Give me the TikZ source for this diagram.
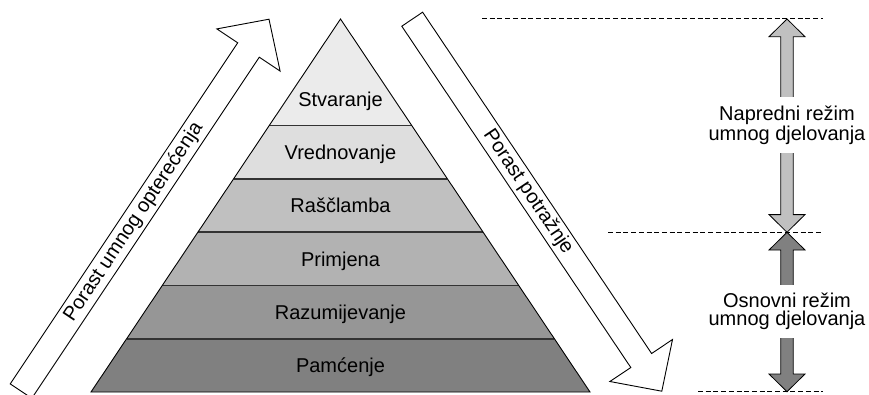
\documentclass[tikz,border=0pt]{standalone}
\usepackage{fontspec}
\setmainfont{Liberation Sans}
\usetikzlibrary{calc}
\definecolor{bandA}{HTML}{EBEBEB}
\definecolor{bandB}{HTML}{DEDEDE}
\definecolor{bandC}{HTML}{C0C0C0}
\definecolor{bandD}{HTML}{B2B2B2}
\definecolor{bandE}{HTML}{969696}
\definecolor{bandF}{HTML}{808080}
\definecolor{arrLight}{HTML}{C0C0C0}
\definecolor{arrDark}{HTML}{808080}
\newcommand\mydblarrow[3]{%
  \draw[dblarr, fill=#3] (#1) -- ++(18,17.7) -- ++(-11.8,0) -- ($(#2)+(6.2,-17.7)$) -- ++(11.8,0) -- (#2)
    -- ++(-18,-17.7) -- ++(11.8,0) -- ($(#1)+(-6.2,17.7)$) -- ++(-11.8,0) -- cycle;}
\begin{document}
\begin{tikzpicture}[x=1pt,y=-1pt, font=\fontsize{20}{18.5}\selectfont,
  lbl/.style={inner sep=0pt, anchor=base},
  blockarrow/.style={draw=black, line width=0.9pt, fill=white, line join=miter},
  bandline/.style={draw=black!80, line width=1.6pt},
  dblarr/.style={draw=black, line width=0.8pt, line join=miter},
  guide/.style={draw=black, line width=0.8pt, dash pattern=on 5pt off 2.7pt},
  modetext/.style={fill=white, inner sep=0pt, align=center}]
\clip (0,0) rectangle (869,394);
% pyramid
\coordinate (apex) at (340.5,19);
\coordinate (bl) at (91,392);
\coordinate (br) at (590,392);
\begin{scope}
  \clip (apex) -- (bl) -- (br) -- cycle;
  \fill[bandA] (0,0) rectangle (869,125.57);
  \fill[bandB] (0,125.57) rectangle (869,178.86);
  \fill[bandC] (0,178.86) rectangle (869,232.14);
  \fill[bandD] (0,232.14) rectangle (869,285.43);
  \fill[bandE] (0,285.43) rectangle (869,338.71);
  \fill[bandF] (0,338.71) rectangle (869,400);
\end{scope}
\foreach \k in {2,3,4,5,6}{
  \draw[bandline] ($(apex)!\k/7!(bl)$) -- ($(apex)!\k/7!(br)$);
}
\draw[line width=0.9pt, line join=miter] (apex) -- (bl) -- (br) -- cycle;
\node[lbl] (stv) at (340.5,106) {Stvaranje};
\node[lbl] (vre) at (340.5,159.5) {Vrednovanje};
\node[lbl] (ras) at (340.5,212.8) {Raščlamba};
\node[lbl] (pri) at (340.5,266) {Primjena};
\node[lbl] (raz) at (340.5,319) {Razumijevanje};
\node[lbl] (pam) at (340.5,372) {Pamćenje};
% left block arrow
\draw[blockarrow] (269.0,19.2) -- (280.1,71.1) -- (259.3,57.2) -- (31.8,398.3) -- (10.2,383.9) -- (237.7,42.8) -- (216.9,28.9) -- cycle;
\node[rotate=56.3] (la) at (133.7,222.2) {Porast umnog opterećenja};
% right block arrow
\draw[blockarrow] (422.6,12.2) -- (651.6,353.5) -- (672.5,339.5) -- (661.8,391.2) -- (609.9,381.5) -- (630.8,367.5) -- (401.8,26.2) -- cycle;
\node[rotate=-56.1] (ra) at (528.1,191.9) {Porast potražnje};
% guides
\coordinate (g1) at (787,19);
\coordinate (g2) at (787,232.3);
\coordinate (g3) at (787,391.7);
\coordinate (d1a) at (482,18.5);
\coordinate (d1b) at (823,18.5);
\coordinate (d2a) at (608,232.3);
\coordinate (d2b) at (823,232.3);
\coordinate (d3a) at (698,391.5);
\coordinate (d3b) at (823,391.5);
\mydblarrow{g1}{g2}{arrLight}
\mydblarrow{g2}{g3}{arrDark}
\draw[guide] (d1a) -- (d1b);
\draw[guide] (d2a) -- (d2b);
\draw[guide] (d3a) -- (d3b);
\node[modetext, minimum height=56pt] (adv) at (787,125) {Napredni režim\\umnog djelovanja};
\node[modetext, minimum height=53pt] (bas) at (787,311.5) {Osnovni režim\\umnog djelovanja};
\end{tikzpicture}
\end{document}
